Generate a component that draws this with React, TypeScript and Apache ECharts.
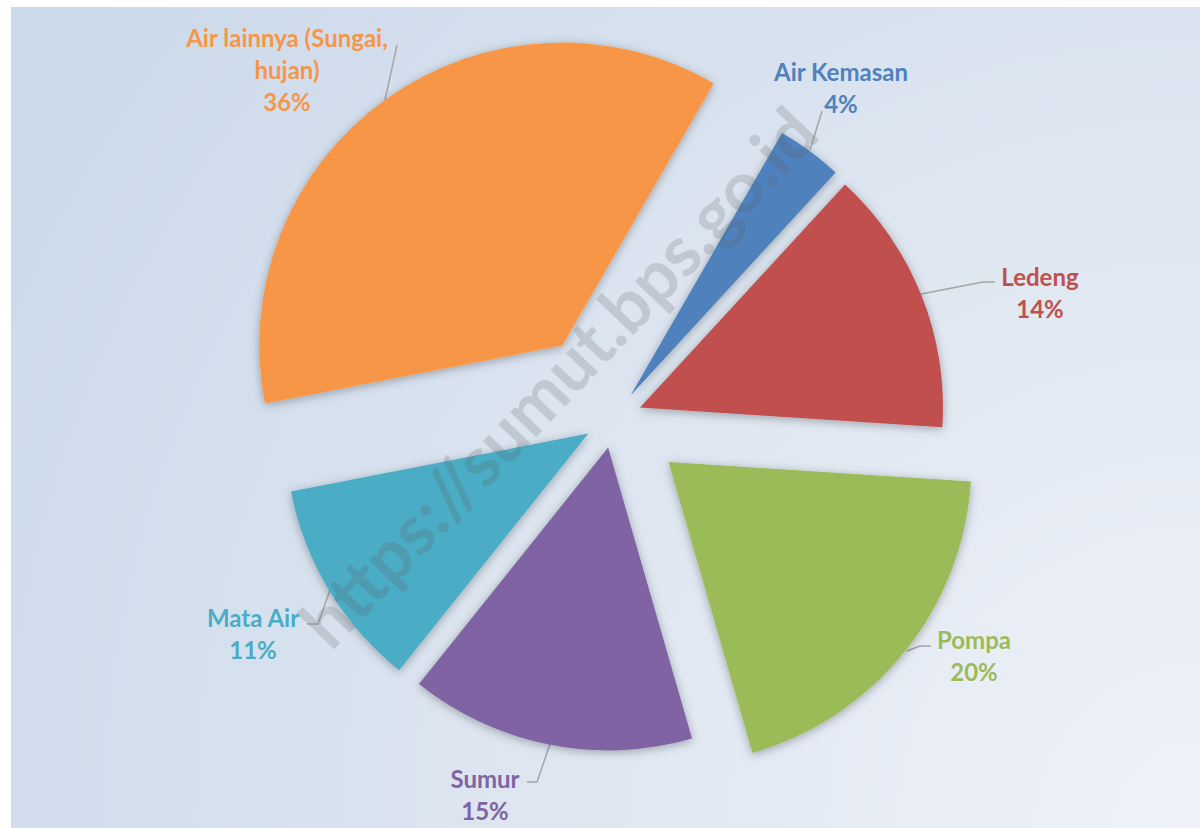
import React, { useEffect, useRef } from 'react';
import * as echarts from 'echarts';

// ---- data ----
const categories = ['Air Kemasan', 'Ledeng', 'Pompa', 'Sumur', 'Mata Air', 'Air lainnya (Sungai, hujan)'];
const shares = [3.5, 14.2, 19.5, 15.2, 11.2, 36.4];
const colors = ['#4f81bd', '#c0504d', '#9bbb59', '#8064a2', '#4bacc6', '#f79646'];
const watermark = 'https://sumut.bps.go.id';

// ---- layout / style ----
const BASE_CENTER = [614, 418];
const RADIUS = 303;
const START_ANGLE = 60;
const explode = [28, 28, 70, 30, 30, 89];
const labelPos = [
  [841, 87],
  [1040, 292],
  [974, 655],
  [485, 794],
  [253, 633],
  [287, 69],
];
const labelLines = [
  [[810, 150], [822, 111]],
  [[921, 294], [983, 282], [995, 282]],
  [[907, 651], [920, 646], [931, 646]],
  [[550, 744], [537, 782], [527, 782]],
  [[330, 590], [318, 624], [307, 624]],
  [[385, 100], [397, 45]],
];
const FONT = 'Lato, "Open Sans", sans-serif';

export default function App() {
  const ref = useRef<HTMLDivElement>(null);
  useEffect(() => {
    const chart = echarts.init(ref.current as HTMLDivElement, null, { renderer: 'svg' });
    const total = shares.reduce((a, b) => a + b, 0);
    let cum = 0;
    const series = shares.map((v, k) => {
      const mid = (90 - START_ANGLE) + (360 * (cum + v / 2)) / total;
      cum += v;
      const rad = (mid * Math.PI) / 180;
      const center = [
        BASE_CENTER[0] + explode[k] * Math.sin(rad),
        BASE_CENTER[1] - explode[k] * Math.cos(rad),
      ];
      return {
        type: 'pie',
        name: categories[k],
        center,
        radius: RADIUS,
        startAngle: START_ANGLE,
        clockwise: true,
        avoidLabelOverlap: false,
        silent: true,
        z: 2,
        emphasis: { disabled: true },
        data: categories.map((name, i) => ({
          name,
          value: shares[i],
          itemStyle:
            i === k
              ? { color: colors[i], shadowBlur: 10, shadowOffsetY: 2, shadowColor: 'rgba(0,0,0,0.3)' }
              : { color: 'rgba(0,0,0,0)', opacity: 0 },
          label: { show: i === k },
          labelLine: { show: i === k },
        })),
        label: {
          position: 'outside',
          formatter: (p: any) =>
            p.name.replace('(Sungai, ', '(Sungai,\n') + '\n' + Math.round(p.percent + 1e-6) + '%',
          color: colors[k],
          fontFamily: FONT,
          fontWeight: 'bold',
          fontSize: 24,
          lineHeight: 32,
        },
        labelLine: { show: true, lineStyle: { color: '#a5a5a5', width: 1.5 } },
        labelLayout: (p: any) =>
          p.dataIndex === k
            ? {
                x: labelPos[k][0],
                y: labelPos[k][1],
                align: 'center',
                verticalAlign: 'middle',
                labelLinePoints: labelLines[k],
              }
            : {},
      };
    });

    chart.setOption({
      animation: false,
      backgroundColor: '#ffffff',
      graphic: [
        {
          type: 'rect',
          z: -10,
          silent: true,
          shape: { x: 11, y: 7, width: 1189, height: 821 },
          style: {
            fill: {
              type: 'radial',
              x: 1200,
              y: 828,
              r: 1450,
              global: true,
              colorStops: [
                { offset: 0, color: '#eff2f9' },
                { offset: 0.5, color: '#dce5f0' },
                { offset: 1, color: '#cad8ea' },
              ],
            },
          },
        },
        {
          type: 'text',
          z: 100,
          silent: true,
          x: 557,
          y: 376,
          rotation: (46.4 * Math.PI) / 180,
          style: {
            text: watermark,
            font: 'bold 70px Lato, sans-serif',
            fill: 'rgba(90,90,90,0.2)',
            align: 'center',
            verticalAlign: 'middle',
            textAlign: 'center',
            textVerticalAlign: 'middle',
          },
        },
      ],
      series,
    });
    return () => chart.dispose();
  }, []);
  return <div ref={ref} style={{ position: 'fixed', left: 0, top: 0, width: 1200, height: 828 }} />;
}
